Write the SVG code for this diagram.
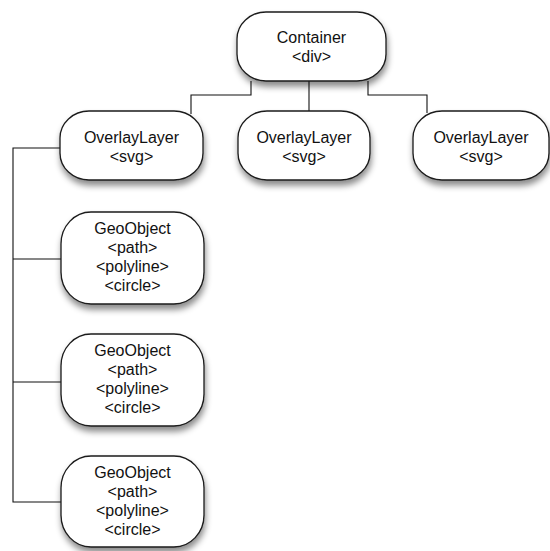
<svg xmlns="http://www.w3.org/2000/svg" width="550" height="551" viewBox="0 0 550 551">
<defs>
<filter id="sh" x="-20%" y="-20%" width="140%" height="150%">
<feDropShadow dx="1" dy="5" stdDeviation="3" flood-color="#000" flood-opacity="0.45"/>
</filter>
</defs>
<style>
.box{fill:#fff;stroke:#1a1a1a;stroke-width:1.3;filter:url(#sh)}
.t{font-family:"Liberation Sans",Arial,sans-serif;font-size:16px;fill:#111;text-anchor:middle}
.c{fill:none;stroke:#111;stroke-width:1.1}
</style>
<rect width="550" height="551" fill="#fff"/>
<g id="connectors">
<path class="c" d="M251,81 V95 H191 V114"/>
<path class="c" d="M309,81 V111"/>
<path class="c" d="M368,81 V95 H427 V113"/>
<path class="c" d="M61,148 H13 V502 H62"/>
<path class="c" d="M13,259 H62"/>
<path class="c" d="M13,382 H62"/>
</g>
<g id="container">
<rect class="box" x="237" y="12" width="149" height="69" rx="29" ry="27"/>
<text class="t" x="311.5" y="43">Container</text>
<text class="t" x="311.5" y="62">&lt;div&gt;</text>
</g>
<g id="overlay1">
<rect class="box" x="60" y="111" width="143" height="69" rx="29" ry="27"/>
<text class="t" x="131.5" y="143">OverlayLayer</text>
<text class="t" x="131.5" y="162">&lt;svg&gt;</text>
</g>
<g id="overlay2">
<rect class="box" x="238" y="111" width="132" height="69" rx="29" ry="27"/>
<text class="t" x="304" y="143">OverlayLayer</text>
<text class="t" x="304" y="162">&lt;svg&gt;</text>
</g>
<g id="overlay3">
<rect class="box" x="413" y="111" width="136" height="69" rx="29" ry="27"/>
<text class="t" x="481" y="143">OverlayLayer</text>
<text class="t" x="481" y="162">&lt;svg&gt;</text>
</g>
<g id="geo1">
<rect class="box" x="61" y="212" width="143" height="92" rx="30" ry="32"/>
<text class="t" x="132.5" y="234">GeoObject</text>
<text class="t" x="132.5" y="253">&lt;path&gt;</text>
<text class="t" x="132.5" y="272">&lt;polyline&gt;</text>
<text class="t" x="132.5" y="291">&lt;circle&gt;</text>
</g>
<g id="geo2">
<rect class="box" x="61" y="334" width="143" height="92" rx="30" ry="32"/>
<text class="t" x="132.5" y="356">GeoObject</text>
<text class="t" x="132.5" y="375">&lt;path&gt;</text>
<text class="t" x="132.5" y="394">&lt;polyline&gt;</text>
<text class="t" x="132.5" y="413">&lt;circle&gt;</text>
</g>
<g id="geo3">
<rect class="box" x="61" y="456" width="143" height="91" rx="30" ry="32"/>
<text class="t" x="132.5" y="478">GeoObject</text>
<text class="t" x="132.5" y="497">&lt;path&gt;</text>
<text class="t" x="132.5" y="516">&lt;polyline&gt;</text>
<text class="t" x="132.5" y="535">&lt;circle&gt;</text>
</g>
</svg>
